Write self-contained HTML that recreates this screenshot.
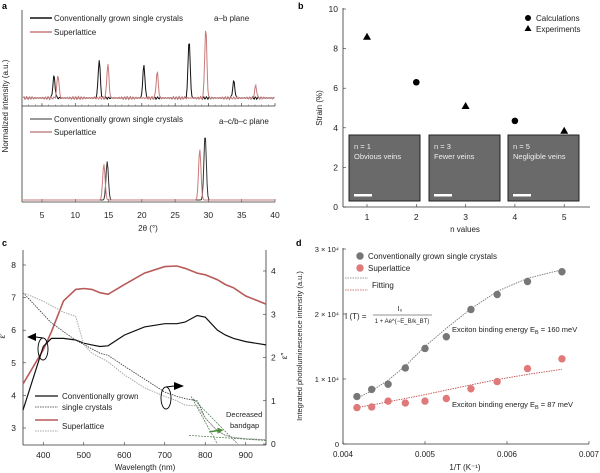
<!DOCTYPE html>
<html><head><meta charset="utf-8">
<style>
html,body{margin:0;padding:0;background:#fff;}
svg{display:block;font-family:"Liberation Sans",sans-serif;}
</style></head>
<body>
<svg id="fig" width="600" height="473" viewBox="0 0 600 473" xmlns="http://www.w3.org/2000/svg"></svg>
<script>
// ---- Panel a data ----
const aTopBlackPos=[6.8,13.6,20.3,27.1,33.8];
const aTopBlackH=[0.22,0.38,0.33,0.58,0.17];
const aTopRedPos=[7.4,14.9,22.3,29.6,37.1];
const aTopRedH=[0.23,0.34,0.26,0.70,0.12];
const aBotBlackPos=[14.8,29.5];
const aBotBlackH=[0.42,0.71];
const aBotRedPos=[14.3,28.7];
const aBotRedH=[0.39,0.55];
const aTicks=[5,10,15,20,25,30,35,40];
// ---- Panel b data ----
const bCalcN=[2,4];
const bCalcV=[6.3,4.35];
const bExpN=[1,3,5];
const bExpV=[8.6,5.1,3.85];
const bYTicks=[0,2,4,6,8,10];
const bXTicks=[1,2,3,4,5];
const bInsets=[["n = 1","Obvious veins"],["n = 3","Fewer veins"],["n = 5","Negligible veins"]];
// ---- Panel c data ----
const cWl=[350,400,420,450,480,500,520,540,560,600,650,700,730,750,780,800,830,850,870,900,950];
const cRed=[4.35,5.4,5.95,6.9,7.25,7.28,7.25,7.15,7.1,7.4,7.75,7.95,7.97,7.9,7.75,7.7,7.55,7.4,7.3,7.05,6.8];
const cBlack=[3.55,5.5,5.75,5.75,5.7,5.6,5.55,5.5,5.52,5.85,6.1,6.2,6.2,6.25,6.45,6.4,6.0,5.85,5.75,5.65,5.55];
const cBlackE2=[3.5,3.0,2.8,2.6,2.4,2.3,2.2,2.1,2.05,1.8,1.5,1.2,1.1,1.05,1.0,0.6,0.3,0.2,0.15,0.12,0.1];
const cGrayE2=[3.5,3.3,3.2,3.05,2.95,2.3,2.1,2.0,1.9,1.6,1.3,1.1,1.0,0.9,0.88,0.6,0.3,0.2,0.15,0.12,0.1];
const cXTicks=[400,500,600,700,800,900];
const cYTicks=[3,4,5,6,7,8];
const cY2Ticks=[0,1,2,3,4];
// ---- Panel d data ----
const dX=[0.00417,0.00435,0.00455,0.00476,0.005,0.00526,0.00556,0.00588,0.00625,0.00667];
const dGray=[0.73,0.84,0.92,1.17,1.47,1.65,2.07,2.30,2.50,2.65];
const dRed=[0.56,0.57,0.66,0.63,0.66,0.70,0.85,0.96,1.16,1.31];
const dGrayFit=[0.70,0.82,0.98,1.20,1.50,1.78,2.08,2.35,2.55,2.68];
const dRedFit=[0.56,0.60,0.65,0.70,0.76,0.83,0.91,0.99,1.07,1.15];
const dXTicks=[0.004,0.005,0.006,0.007];
const dYTicks=[0,1,2,3];

const svg=document.getElementById('fig');
const NS='http://www.w3.org/2000/svg';
function el(tag,attrs,parent){const e=document.createElementNS(NS,tag);for(const k in attrs)e.setAttribute(k,attrs[k]);(parent||svg).appendChild(e);return e;}
function txt(x,y,s,size,anchor,parent,extra){const t=el('text',Object.assign({x:x,y:y,'font-size':size||9,'text-anchor':anchor||'start',fill:'#222'},extra||{}),parent);t.textContent=s;return t;}
function grp(name){const g=el('g',{});return g;}

// ================= Panel a =================
const ax=v=>22+(v-2)*(253/38);
const ga=grp('panel-a');
txt(2,9,'a',9,'start',ga,{'font-weight':'bold',fill:'#000'});
el('line',{x1:22,y1:10,x2:22,y2:202,stroke:'#333','stroke-width':0.8},ga);
el('line',{x1:22,y1:106,x2:275,y2:106,stroke:'#333','stroke-width':0.8},ga);
el('line',{x1:22,y1:202,x2:275,y2:202,stroke:'#333','stroke-width':0.8},ga);
aTicks.forEach(t=>{el('line',{x1:ax(t),y1:106,x2:ax(t),y2:103,stroke:'#333','stroke-width':0.6},ga);el('line',{x1:ax(t),y1:202,x2:ax(t),y2:199,stroke:'#333','stroke-width':0.6},ga);txt(ax(t),218,String(t),8.5,'middle',ga);});
for(let t=3;t<=40;t++){el('line',{x1:ax(t),y1:106,x2:ax(t),y2:104.5,stroke:'#333','stroke-width':0.4},ga);}
txt(148,231,'2θ (°)',8,'middle',ga);
txt(8,106,'Normalized intensity (a.u.)',8,'middle',ga,{transform:'rotate(-90 8 106)'});
function peakPath(pos,h,base,scale,color,noise,name,w){
 let d='';let first=true;
 for(let v=2.2;v<=39.9;v+=0.12){let y=base+(noise?(Math.sin(v*37)*0.8+Math.sin(v*91)*0.5):0);
  pos.forEach((p,i)=>{y-=h[i]*scale*Math.exp(-((v-p)*(v-p))/(2*w*w));});
  d+=(first?'M':'L')+ax(v).toFixed(1)+' '+y.toFixed(1);first=false;}
 const p=el('path',{d:d,fill:'none',stroke:color,'stroke-width':1},ga);}
peakPath(aTopBlackPos,aTopBlackH,98,100,'#111',true,'ab-plane-conventional-line',0.16);
peakPath(aTopRedPos,aTopRedH,98,100,'#c97a7a',true,'ab-plane-superlattice-line',0.16);
peakPath(aBotBlackPos,aBotBlackH,200,92,'#333',false,'acbc-plane-conventional-line',0.18);
peakPath(aBotRedPos,aBotRedH,200,92,'#c97a7a',false,'acbc-plane-superlattice-line',0.18);
el('line',{x1:30,y1:18,x2:52,y2:18,stroke:'#111','stroke-width':1.5},ga);txt(54,21,'Conventionally grown single crystals',8,'start',ga);
el('line',{x1:30,y1:32,x2:52,y2:32,stroke:'#c97a7a','stroke-width':1.5},ga);txt(54,35,'Superlattice',8,'start',ga);
txt(214,21,'a–b plane',8,'start',ga);
el('line',{x1:30,y1:119,x2:52,y2:119,stroke:'#333','stroke-width':1},ga);txt(54,122,'Conventionally grown single crystals',8,'start',ga);
el('line',{x1:30,y1:132,x2:52,y2:132,stroke:'#a05050','stroke-width':1},ga);txt(54,135,'Superlattice',8,'start',ga);
txt(219,124,'a–c/b–c plane',8,'start',ga);

// ================= Panel b =================
const bx=n=>367+(n-1)*49.3;
const by=v=>207-v*19.8;
const gb=grp('panel-b');
txt(298,9,'b',9,'start',gb,{'font-weight':'bold',fill:'#000'});
el('line',{x1:343,y1:8,x2:343,y2:207,stroke:'#333','stroke-width':0.8},gb);
el('line',{x1:343,y1:207,x2:590,y2:207,stroke:'#333','stroke-width':0.8},gb);
bYTicks.forEach(t=>{el('line',{x1:343,y1:by(t),x2:346,y2:by(t),stroke:'#333','stroke-width':0.6},gb);txt(338,by(t)+3,String(t),8.5,'end',gb);});
bXTicks.forEach(t=>{el('line',{x1:bx(t),y1:207,x2:bx(t),y2:204,stroke:'#333','stroke-width':0.6},gb);txt(bx(t),220,String(t),8.5,'middle',gb);});
txt(465,232,'n values',8,'middle',gb);
txt(322,108,'Strain (%)',8,'middle',gb,{transform:'rotate(-90 322 108)'});
[349,429,508].forEach((x,i)=>{const r=el('rect',{x:x,y:135,width:71,height:66,fill:'#6a6a6a',stroke:'#222','stroke-width':1},gb);
 txt(x+5,149,bInsets[i][0],7.5,'start',gb,{fill:'#eee'});txt(x+5,159,bInsets[i][1],7.5,'start',gb,{fill:'#eee'});
 el('rect',{x:x+5,y:194,width:18,height:2.5,fill:'#fff'},gb);});
bCalcN.forEach((n,i)=>{const c=el('circle',{cx:bx(n),cy:by(bCalcV[i]),r:3.3,fill:'#000'},gb);});
bExpN.forEach((n,i)=>{const x=bx(n),y=by(bExpV[i]);const p=el('polygon',{points:`${x},${y-4} ${x-4},${y+3} ${x+4},${y+3}`,fill:'#000'},gb);});
el('circle',{cx:528,cy:18,r:3,fill:'#000'},gb);txt(536,21,'Calculations',8,'start',gb);
el('polygon',{points:'528,25 524.5,31 531.5,31',fill:'#000'},gb);txt(536,32,'Experiments',8,'start',gb);

// ================= Panel c =================
const cx=w=>23+(w-350)*(243/600);
const cy=v=>428-(v-3)*32.6;
const cy2=v=>444-v*43.25;
const gc=grp('panel-c');
txt(2,246,'c',9,'start',gc,{'font-weight':'bold',fill:'#000'});
el('line',{x1:23,y1:250,x2:23,y2:445,stroke:'#333','stroke-width':0.8},gc);
el('line',{x1:266,y1:250,x2:266,y2:445,stroke:'#333','stroke-width':0.8},gc);
el('line',{x1:23,y1:445,x2:266,y2:445,stroke:'#333','stroke-width':0.8},gc);
cXTicks.forEach(t=>{el('line',{x1:cx(t),y1:445,x2:cx(t),y2:442,stroke:'#333','stroke-width':0.6},gc);txt(cx(t),458,String(t),8.5,'middle',gc);});
cYTicks.forEach(t=>{el('line',{x1:23,y1:cy(t),x2:26,y2:cy(t),stroke:'#333','stroke-width':0.6},gc);txt(16,cy(t)+3,String(t),8.5,'end',gc);});
cY2Ticks.forEach(t=>{el('line',{x1:266,y1:cy2(t),x2:263,y2:cy2(t),stroke:'#333','stroke-width':0.6},gc);txt(271,cy2(t)+3,String(t),8.5,'start',gc);});
txt(145,470,'Wavelength (nm)',8,'middle',gc);
txt(5,336,"ε′",8,'middle',gc,{transform:'rotate(-90 5 336)'});
txt(287,356,"ε″",8,'middle',gc,{transform:'rotate(-90 287 356)'});
function line(xs,ys,fx,fy,attrs,name,parent){const d=xs.map((x,i)=>(i?'L':'M')+fx(x).toFixed(1)+' '+fy(ys[i]).toFixed(1)).join('');const p=el('path',Object.assign({d:d,fill:'none'},attrs),parent);return p;}
line(cWl,cRed,cx,cy,{stroke:'#b85a5a','stroke-width':1.6},'superlattice-eps1-line',gc);
line(cWl,cBlack,cx,cy,{stroke:'#111','stroke-width':1.2},'conventional-eps1-line',gc);
line(cWl,cBlackE2,cx,cy2,{stroke:'#333','stroke-width':0.8,'stroke-dasharray':'1.5,1'},'conventional-eps2-line',gc);
line(cWl,cGrayE2,cx,cy2,{stroke:'#aaa','stroke-width':1,'stroke-dasharray':'1.5,1'},'superlattice-eps2-line',gc);
el('line',{x1:cx(765),y1:cy2(1.1),x2:cx(830),y2:cy2(0),stroke:'#4a7a4a','stroke-width':0.7,'stroke-dasharray':'2,1'},gc);
el('line',{x1:cx(770),y1:cy2(1.05),x2:cx(880),y2:cy2(0),stroke:'#4a7a4a','stroke-width':0.7,'stroke-dasharray':'2,1'},gc);
el('line',{x1:cx(760),y1:cy2(0.2),x2:cx(950),y2:cy2(0.08),stroke:'#4a7a4a','stroke-width':0.7,'stroke-dasharray':'2,1'},gc);
el('line',{x1:cx(810),y1:cy2(0.28),x2:cx(830),y2:cy2(0.31),stroke:'#4a8a3a','stroke-width':1.5},gc);
el('polygon',{points:`${cx(830)},${cy2(0.38)} ${cx(845)},${cy2(0.32)} ${cx(830)},${cy2(0.24)}`,fill:'#4a8a3a'},gc);
txt(226,417,'Decreased',7.5,'start',gc);txt(230,428,'bandgap',7.5,'start',gc);
el('ellipse',{cx:43,cy:349,rx:5,ry:11,fill:'none',stroke:'#000','stroke-width':0.9},gc);
el('line',{x1:43,y1:338,x2:36,y2:337,stroke:'#000','stroke-width':1},gc);
el('polygon',{points:'27,337 36,333 36,341',fill:'#000'},gc);
el('ellipse',{cx:166,cy:398,rx:5,ry:11,fill:'none',stroke:'#000','stroke-width':0.9},gc);
el('line',{x1:166,y1:387,x2:174,y2:386,stroke:'#000','stroke-width':1},gc);
el('polygon',{points:'184,386 174,382 174,390',fill:'#000'},gc);
el('line',{x1:35,y1:396,x2:58,y2:396,stroke:'#111','stroke-width':1.2},gc);
el('line',{x1:35,y1:407,x2:58,y2:407,stroke:'#333','stroke-width':0.8,'stroke-dasharray':'1.5,1'},gc);
txt(62,399,'Conventionally grown',8,'start',gc);txt(62,410,'single crystals',8,'start',gc);
el('line',{x1:35,y1:420,x2:58,y2:420,stroke:'#b85a5a','stroke-width':1.6},gc);
el('line',{x1:35,y1:431,x2:58,y2:431,stroke:'#aaa','stroke-width':1,'stroke-dasharray':'1.5,1'},gc);
txt(62,429,'Superlattice',8,'start',gc);

// ================= Panel d =================
const dxF=v=>343+(v-0.004)*(246/0.003);
const dyF=v=>444-v*65;
const gd=grp('panel-d');
txt(296,246,'d',9,'start',gd,{'font-weight':'bold',fill:'#000'});
el('line',{x1:343,y1:248,x2:343,y2:444,stroke:'#333','stroke-width':0.8},gd);
el('line',{x1:343,y1:444,x2:589,y2:444,stroke:'#333','stroke-width':0.8},gd);
dXTicks.forEach(t=>{el('line',{x1:dxF(t),y1:444,x2:dxF(t),y2:441,stroke:'#333','stroke-width':0.6},gd);txt(dxF(t),457,t.toFixed(3),8,'middle',gd);});
dYTicks.forEach(t=>{el('line',{x1:343,y1:dyF(t),x2:346,y2:dyF(t),stroke:'#333','stroke-width':0.6},gd);txt(339,dyF(t)+3,t===0?'0':t+' × 10⁴',7.5,'end',gd);});
txt(465,470,'1/T (K⁻¹)',8,'middle',gd);
txt(302,346,'Integrated photoluminescence intensity (a.u.)',7.5,'middle',gd,{transform:'rotate(-90 302 346)'});
line(dX,dGrayFit,dxF,dyF,{stroke:'#777','stroke-width':0.9,'stroke-dasharray':'1.5,1'},'conventional-fit-line',gd);
line(dX,dRedFit,dxF,dyF,{stroke:'#c05050','stroke-width':0.9,'stroke-dasharray':'1.5,1'},'superlattice-fit-line',gd);
dX.forEach((x,i)=>{const c=el('circle',{cx:dxF(x),cy:dyF(dGray[i]),r:3.7,fill:'#777'},gd);});
dX.forEach((x,i)=>{const c=el('circle',{cx:dxF(x),cy:dyF(dRed[i]),r:3.7,fill:'#e07a7a'},gd);});
el('circle',{cx:360,cy:256,r:3.7,fill:'#777'},gd);txt(368,259,'Conventionally grown single crystals',8,'start',gd);
el('circle',{cx:360,cy:268,r:3.7,fill:'#e07a7a'},gd);txt(368,271,'Superlattice',8,'start',gd);
el('line',{x1:345,y1:278,x2:368,y2:278,stroke:'#777','stroke-width':0.8,'stroke-dasharray':'1.5,1'},gd);
el('line',{x1:345,y1:290,x2:368,y2:290,stroke:'#c05050','stroke-width':0.8,'stroke-dasharray':'1.5,1'},gd);
txt(372,288,'Fitting',8,'start',gd);
txt(345,319,'I (T) =',8,'start',gd);
txt(400,311,'I₀',7,'middle',gd);
el('line',{x1:373,y1:315,x2:432,y2:315,stroke:'#222','stroke-width':0.6},gd);
txt(402,323,'1 + Ae^(−E_B/k_BT)',6,'middle',gd);
function eb(y,val){const t=el('text',{x:452,y:y,'font-size':7.5,fill:'#222'},gd);
 t.appendChild(document.createTextNode('Exciton binding energy E'));
 const s=el('tspan',{'font-size':5.5,dy:2},t);s.textContent='B';
 const r=el('tspan',{dy:-2},t);r.textContent=' = '+val+' meV';}
eb(332,160);
eb(407,87);
</script>
</body></html>
